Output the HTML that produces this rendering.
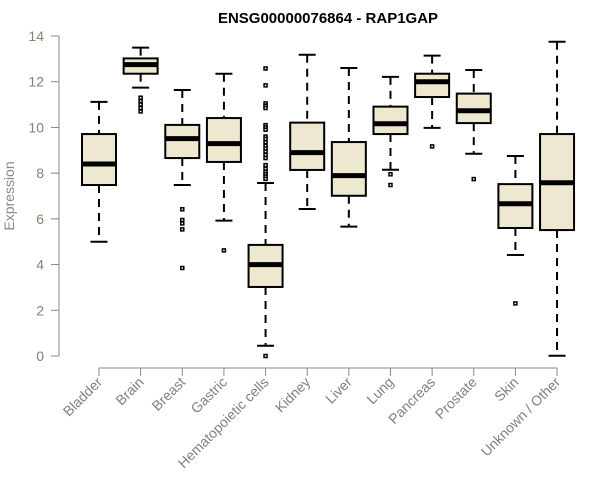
<!DOCTYPE html>
<html><head><meta charset="utf-8"><style>
body{margin:0;background:#fff;}
svg{display:block;font-family:"Liberation Sans",sans-serif;}
</style></head><body>
<svg id="chart" width="600" height="500" viewBox="0 0 600 500">
<text x="328" y="23" text-anchor="middle" font-size="15" font-weight="bold">ENSG00000076864 - RAP1GAP</text>
<text transform="translate(14,196) rotate(-90)" text-anchor="middle" font-size="14" fill="#888">Expression</text>
<g id="axes"></g><g id="marks"></g>
</svg>
<script>
const categories=["Bladder","Brain","Breast","Gastric","Hematopoietic cells","Kidney","Liver","Lung","Pancreas","Prostate","Skin","Unknown / Other"];
const whiskerLow=[5.0,11.74,7.48,5.92,0.45,6.43,5.66,8.15,9.98,8.85,4.42,0.01];
const q1=[7.48,12.35,8.66,8.49,3.02,8.14,7.01,9.71,11.33,10.19,5.6,5.51];
const median=[8.4,12.75,9.51,9.29,4.0,8.9,7.89,10.16,12.0,10.73,6.66,7.58];
const q3=[9.71,13.02,10.11,10.41,4.86,10.21,9.36,10.91,12.35,11.48,7.52,9.71];
const whiskerHigh=[11.12,13.49,11.64,12.35,7.57,13.18,12.6,12.21,13.14,12.51,8.75,13.75];
const outliers=[[],[11.3,11.15,11.0,10.85,10.7],[6.42,5.95,5.8,5.54,3.85],[4.62],
[0.0,12.58,11.84,11.05,10.95,10.85,10.1,10.0,9.9,9.6,9.5,9.35,9.2,9.08,8.95,8.8,8.66,8.35,8.2,8.05,7.95,7.85,7.75],
[],[],[7.95,7.48],[9.17],[7.74],[2.3],[]];
const yTicks=[0,2,4,6,8,10,12,14];
const NS="http://www.w3.org/2000/svg";
const y=v=>356-v*(320/14);
const x=i=>99+i*41.64;
function mk(p,t,a){const e=document.createElementNS(NS,t);for(const k in a)e.setAttribute(k,a[k]);p.appendChild(e);return e;}
const ax=document.getElementById('axes'),mg=document.getElementById('marks');
const yl=mk(ax,'line',{x1:59,x2:59,y1:y(14),y2:y(0),stroke:'#888'});


yTicks.forEach(t=>{
 const tk=mk(ax,'line',{x1:51,x2:59,y1:y(t),y2:y(t),stroke:'#888'});
 
 
 const tx=mk(ax,'text',{x:44,y:y(t)+5,'text-anchor':'end','font-size':14,fill:'#8a8070'});
 tx.textContent=t;
 
 
});
const xl=mk(ax,'line',{x1:x(0),x2:x(11),y1:368,y2:368,stroke:'#888'});


categories.forEach((c,i)=>{
 const tk=mk(ax,'line',{x1:x(i),x2:x(i),y1:368,y2:376,stroke:'#888'});
 
 
 const tx=mk(ax,'text',{transform:`translate(${x(i)+4},${383}) rotate(-45)`,'text-anchor':'end','font-size':14,fill:'#7f7f8a'});
 tx.textContent=c;
 
 
 const g=mk(mg,'g',{});
 
 
 const cx=x(i),hw=17,cw=8.5;
 mk(g,'line',{x1:cx,x2:cx,y1:y(whiskerHigh[i]),y2:y(q3[i]),stroke:'#000','stroke-width':2,'stroke-dasharray':'8,6'});
 mk(g,'line',{x1:cx,x2:cx,y1:y(q1[i]),y2:y(whiskerLow[i]),stroke:'#000','stroke-width':2,'stroke-dasharray':'8,6'});
 mk(g,'line',{x1:cx-cw,x2:cx+cw,y1:y(whiskerHigh[i]),y2:y(whiskerHigh[i]),stroke:'#000','stroke-width':2});
 mk(g,'line',{x1:cx-cw,x2:cx+cw,y1:y(whiskerLow[i]),y2:y(whiskerLow[i]),stroke:'#000','stroke-width':2});
 mk(g,'rect',{x:cx-hw,y:y(q3[i]),width:2*hw,height:y(q1[i])-y(q3[i]),fill:'#ede8cf',stroke:'#000','stroke-width':2});
 mk(g,'line',{x1:cx-hw,x2:cx+hw,y1:y(median[i]),y2:y(median[i]),stroke:'#000','stroke-width':5});
 outliers[i].forEach(v=>{
  const o=mk(g,'rect',{x:cx-1.5,y:y(v)-1.5,width:3,height:3,fill:'#fff',stroke:'#000','stroke-width':1.5});
  
  
 });
});
</script>
</body></html>
